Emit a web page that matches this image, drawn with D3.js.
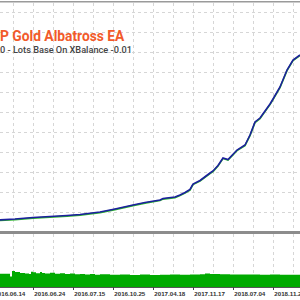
<!DOCTYPE html>
<html>
<head>
<meta charset="utf-8">
<script src="https://cdn.jsdelivr.net/npm/d3@7"></script>
<style>
  html, body { margin: 0; padding: 0; background: #fff; }
  svg { display: block; }
</style>
</head>
<body>
<div id="chart"></div>
<script>
'use strict';

// trade number on x, balance / equity in USD
const tradeIndex = [0, 75, 165, 250, 335, 400, 500, 575, 665, 725, 800, 815, 875, 900, 925, 950, 965, 1000, 1050, 1065, 1090, 1115, 1140, 1185, 1225, 1250, 1275, 1300, 1325, 1350, 1365, 1400, 1435, 1465, 1500];
const balance = [590, 635, 710, 760, 810, 860, 985, 1135, 1335, 1460, 1585, 1660, 1735, 1835, 1960, 2110, 2385, 2560, 2935, 3035, 3310, 3685, 3610, 4085, 4335, 4835, 5485, 5685, 6035, 6385, 6635, 7235, 8085, 8585, 8835];
const equity = [560, 605, 680, 730, 780, 830, 955, 1105, 1305, 1430, 1555, 1630, 1705, 1805, 1930, 2080, 2355, 2530, 2905, 3005, 3280, 3655, 3580, 4055, 4305, 4805, 5455, 5655, 6005, 6355, 6605, 7205, 8055, 8555, 8805];

// deposit load (bottom panel)
const loadIndex = [0, 45, 50, 60, 75, 100, 125, 145, 155, 165, 180, 200, 210, 225, 250, 275, 300, 325, 350, 375, 400, 425, 450, 475, 500, 550, 600, 650, 700, 750, 800, 850, 900, 950, 1000, 1025, 1050, 1100, 1150, 1200, 1250, 1300, 1350, 1400, 1450, 1500];
const loadValue = [13.8, 13.8, 11, 16.5, 15.5, 14.5, 14, 13.6, 15.8, 15.2, 14.2, 15.4, 14.5, 14, 14.8, 13.8, 14.2, 13.4, 13.9, 13.2, 13.6, 13.0, 13.4, 12.8, 13.2, 12.7, 13.0, 12.6, 12.9, 12.6, 12.8, 13.0, 12.7, 12.9, 13.2, 14.0, 13.6, 13.2, 13.1, 12.9, 13.0, 12.8, 12.9, 12.7, 12.8, 12.7];

// date labels sit on every second vertical grid line
const gridSlots = d3.range(0, 15);
const dateSlots = [-1, 1, 3, 5, 7, 9, 11, 13];
const dateLabels = ['2016.06.14', '2016.06.24', '2016.07.15', '2016.10.25', '2017.04.18', '2017.11.17', '2018.07.04', '2018.11.22'];
const balanceTicks = d3.range(1000, 12000, 1000);

const titleText = 'P Gold Albatross EA';
const subtitleText = '0 - Lots Base On XBalance -0.01';

const width = 300;
const height = 300;

const svg = d3.select('#chart').append('svg')
  .attr('width', width)
  .attr('height', height);

const xScale = d3.scaleLinear().domain([0, 1500]).range([0, 300]);
const gridX = d3.scaleLinear().domain([0, 14]).range([13.3, 293.3]);
const yScale = d3.scaleLinear().domain([0, 11000]).range([231.7, 11.7]);
const loadScale = d3.scaleLinear().domain([0, 20]).range([287.5, 267.5]);

// top border
svg.append('rect')
  .attr('x', 0).attr('y', 1)
  .attr('width', width).attr('height', 1.5)
  .attr('fill', '#9a9a9a');

const grid = svg.append('g')
  .attr('stroke', '#d6d6d6')
  .attr('stroke-width', 1)
  .attr('stroke-dasharray', '3,3');

grid.selectAll('.hgrid')
  .data(balanceTicks)
  .enter().append('line')
  .attr('class', 'hgrid')
  .attr('x1', 0).attr('x2', width)
  .attr('y1', d => Math.round(yScale(d)) + 0.5)
  .attr('y2', d => Math.round(yScale(d)) + 0.5);

grid.selectAll('.vgrid')
  .data(gridSlots)
  .enter().append('line')
  .attr('class', 'vgrid')
  .attr('x1', d => Math.round(gridX(d)) + 0.5)
  .attr('x2', d => Math.round(gridX(d)) + 0.5)
  .attr('y1', 3).attr('y2', 231);

grid.selectAll('.vgrid2')
  .data(gridSlots)
  .enter().append('line')
  .attr('class', 'vgrid2')
  .attr('x1', d => Math.round(gridX(d)) + 0.5)
  .attr('x2', d => Math.round(gridX(d)) + 0.5)
  .attr('y1', 234).attr('y2', 287);

// title
svg.append('text')
  .attr('x', 0).attr('y', 41)
  .attr('font-family', 'Roboto')
  .attr('font-weight', 'bold')
  .attr('font-size', 13.8)
  .attr('fill', '#f25a2a')
  .text(titleText);

svg.append('text')
  .attr('x', 0).attr('y', 52.5)
  .attr('font-family', 'Roboto')
  .attr('font-weight', 500)
  .attr('font-size', 9.2)
  .attr('fill', '#444')
  .text(subtitleText);

// equity + balance
const series = tradeIndex.map((t, i) => ({ t: t, b: balance[i], e: equity[i] }));

svg.append('path')
  .datum(series)
  .attr('fill', 'none')
  .attr('stroke', '#2db52d')
  .attr('stroke-width', 1.6)
  .attr('d', d3.line().x(d => xScale(d.t)).y(d => yScale(d.e)));

svg.append('path')
  .datum(series)
  .attr('fill', 'none')
  .attr('stroke', '#1c1f9e')
  .attr('stroke-width', 1.6)
  .attr('d', d3.line().x(d => xScale(d.t)).y(d => yScale(d.b)));

// separator between panels
svg.append('rect')
  .attr('x', 0).attr('y', 231)
  .attr('width', width).attr('height', 3)
  .attr('fill', '#8c8c8c');

// deposit load area
const load = loadIndex.map((t, i) => ({ t: t, v: loadValue[i] }));

svg.append('path')
  .datum(load)
  .attr('fill', '#00aa00')
  .attr('d', d3.area()
    .curve(d3.curveStepAfter)
    .x(d => xScale(d.t))
    .y0(loadScale(0))
    .y1(d => loadScale(d.v)));

// date axis
const dateAxis = svg.append('g');
dateAxis.append('line')
  .attr('x1', 0).attr('x2', width)
  .attr('y1', 287.5).attr('y2', 287.5)
  .attr('stroke', '#555');

dateAxis.selectAll('.tick')
  .data(dateSlots)
  .enter().append('line')
  .attr('class', 'tick')
  .attr('x1', d => Math.round(gridX(d)) + 0.5)
  .attr('x2', d => Math.round(gridX(d)) + 0.5)
  .attr('y1', 287).attr('y2', 290)
  .attr('stroke', '#444');

dateAxis.selectAll('.label')
  .data(dateSlots)
  .enter().append('text')
  .attr('class', 'label')
  .attr('x', d => gridX(d) + 1)
  .attr('y', 295.5)
  .attr('font-family', 'Liberation Sans')
  .attr('font-weight', 'bold')
  .attr('font-size', 6.2)
  .attr('fill', '#333')
  .text((d, i) => dateLabels[i]);
</script>
</body>
</html>
